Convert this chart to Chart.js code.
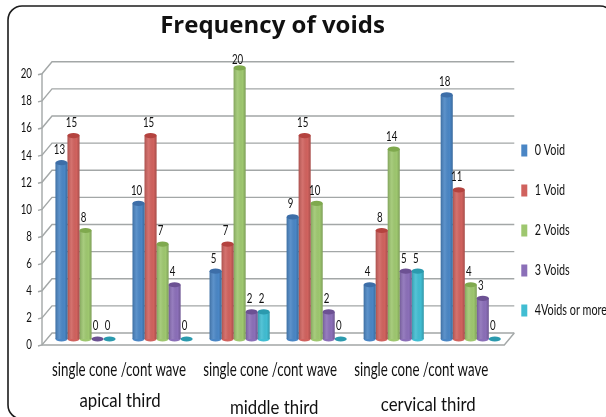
<!DOCTYPE html>
<html>
<head>
<meta charset="utf-8">
<script src="https://cdn.jsdelivr.net/npm/chart.js@4"></script>
<style>
html,body{margin:0;padding:0;background:#fff;overflow:hidden}
#wrap{width:606px;height:417px;position:relative}
</style>
</head>
<body>
<div id="wrap"><canvas id="myChart" width="606" height="417"></canvas></div>
<script>
var categories = ["single cone","cont wave","single cone","cont wave","single cone","cont wave"];
var void0 = [13,10,5,9,4,18];
var void1 = [15,15,7,15,8,11];
var void2 = [8,7,20,10,14,4];
var void3 = [0,4,2,2,5,3];
var void4 = [0,0,2,0,5,0];
var groupLabels = ["single cone /cont wave","single cone /cont wave","single cone /cont wave"];
var groupShift = [0,-3,-6];
var thirdLabels = ["apical third","middle third","cervical third"];
var thirdDrop = [0,7,4];

var face = 'Lato,"Open Sans",sans-serif';
var squeeze = 0.72; // reference uses a narrow font, none installed
var depthX = 5, depthY = 6; // bars sit half way into the floor

var caps = ['#3d6ea8','#b4433f','#7fa94e','#6c5193','#2b9aae'];

var threeD = {
  id: 'threeD',
  beforeDraw: function(chart) {
    var c = chart.ctx;
    c.save();
    c.fillStyle = '#fff';
    c.fillRect(0,0,chart.width,chart.height);
    c.strokeStyle = '#1c1c1c';
    c.lineWidth = 1.6;
    c.beginPath();
    c.roundRect(8,6,606,413,14);
    c.stroke();
    c.restore();
  },
  afterLayout: function(chart) {
    chart.legend.top += 58; chart.legend.bottom += 58;
    chart.legend.left -= 8; chart.legend.right -= 8;
    chart.titleBlock.left -= 40; chart.titleBlock.right -= 40;
  },
  beforeDatasetsDraw: function(chart) {
    var c = chart.ctx, a = chart.chartArea, y = chart.scales.y, x = chart.scales.x;
    c.save();
    c.strokeStyle = '#a3a7a7';
    c.lineWidth = 1.4;
    y.ticks.forEach(function(t) {
      var p = y.getPixelForValue(t.value);
      c.beginPath();
      c.moveTo(a.left-4,p+1);
      c.lineTo(a.left,p);
      c.lineTo(a.left+depthX*2,p-depthY*2);
      c.lineTo(a.right+depthX*2,p-depthY*2);
      c.stroke();
    });
    c.beginPath();
    c.moveTo(a.left,a.top);
    c.lineTo(a.left,a.bottom);
    c.lineTo(a.right,a.bottom);
    c.lineTo(a.right+depthX*2,a.bottom-depthY*2);
    c.stroke();
    // labels under the axis, one per pair of categories
    c.fillStyle = '#111';
    c.textAlign = 'center';
    c.textBaseline = 'middle';
    groupLabels.forEach(function(g,i) {
      var m = (x.getPixelForTick(i*2)+x.getPixelForTick(i*2+1))/2;
      c.font = '18.5px '+face;
      c.fillText(g,m+groupShift[i],370);
      squeeze = 0.84;
      c.font = '20px '+face;
      c.fillText(thirdLabels[i],m+1,401+thirdDrop[i]);
      squeeze = 0.72;
    });
    c.restore();
    c.save();
    c.translate(depthX,-depthY);
  },
  afterDatasetsDraw: function(chart) {
    var c = chart.ctx;
    chart.data.datasets.forEach(function(ds,i) {
      chart.getDatasetMeta(i).data.forEach(function(bar,j) {
        var b = bar.getProps(['x','y','base','width'],true);
        var l = b.x-b.width/2, r = b.x+b.width/2;
        if (ds.data[j] > 0) {
          var g = c.createLinearGradient(l,0,r,0);
          g.addColorStop(0,'rgba(0,0,0,.18)');
          g.addColorStop(.35,'rgba(255,255,255,.1)');
          g.addColorStop(.75,'rgba(0,0,0,0)');
          g.addColorStop(1,'rgba(0,0,0,.2)');
          c.fillStyle = ds.backgroundColor;
          c.beginPath();
          c.ellipse(b.x,b.base,b.width/2,2.5,0,0,Math.PI*2);
          c.fill();
          c.fillStyle = g;
          c.fillRect(l,b.y,b.width,b.base-b.y);
        }
        c.fillStyle = caps[i];
        c.beginPath();
        c.ellipse(b.x,b.y,b.width/2,2.6,0,0,Math.PI*2);
        c.fill();
        c.fillStyle = '#111';
        c.font = '13.5px '+face;
        c.textAlign = 'center';
        c.textBaseline = 'middle';
        c.fillText(ds.data[j],b.x-2,Math.max(b.y-13,66));
      });
    });
    c.restore();
  }
};

var ctx = document.getElementById('myChart').getContext('2d');

// squeeze all text except the bold title
var rawFill = ctx.fillText.bind(ctx);
var rawMeasure = ctx.measureText.bind(ctx);
ctx.fillText = function(t,x,y) {
  if (ctx.font.indexOf('bold') >= 0 || ctx.font.indexOf('700') >= 0) { rawFill(t,x,y); return; }
  ctx.save();
  ctx.translate(x,y);
  ctx.scale(squeeze,1);
  rawFill(t,0,0);
  ctx.restore();
};
ctx.measureText = function(t) {
  var m = rawMeasure(t);
  if (ctx.font.indexOf('bold') >= 0 || ctx.font.indexOf('700') >= 0) return m;
  return {width: m.width*squeeze};
};

var myChart = new Chart(ctx, {
  type: 'bar',
  data: {
    labels: categories,
    datasets: [
      {label:'0 Void',data:void0,backgroundColor:'#4a86c5'},
      {label:'1 Void',data:void1,backgroundColor:'#d0625e'},
      {label:'2 Voids',data:void2,backgroundColor:'#9ec76f'},
      {label:'3 Voids',data:void3,backgroundColor:'#8b6fb8'},
      {label:'4Voids or more',data:void4,backgroundColor:'#41bdd2'}
    ]
  },
  options: {
    responsive: false,
    animation: false,
    devicePixelRatio: 1,
    categoryPercentage: 0.78,
    barPercentage: 1,
    layout: {padding: {left: 0, right: -19, top: 0, bottom: 72}},
    plugins: {
      tooltip: {enabled: false},
      title: {
        display: true,
        text: 'Frequency of voids',
        color: '#111',
        font: {family: '"Open Sans"', size: 24, weight: 'bold'},
        padding: {top: 12, bottom: 33}
      },
      legend: {
        position: 'right',
        labels: {
          boxWidth: 6,
          boxHeight: 12,
          padding: 25,
          color: '#111',
          font: {family: face, size: 15}
        }
      }
    },
    scales: {
      x: {
        grid: {display: false},
        border: {display: false},
        afterFit: function(s) { s.height = 0; },
        ticks: {display: false}
      },
      y: {
        min: 0,
        max: 20,
        grid: {display: false},
        border: {display: false},
        afterFit: function(s) { s.width = 42; },
        ticks: {
          stepSize: 2,
          color: '#111',
          padding: 2,
          font: {family: face, size: 13.5}
        }
      }
    }
  },
  plugins: [threeD]
});
</script>
</body>
</html>
